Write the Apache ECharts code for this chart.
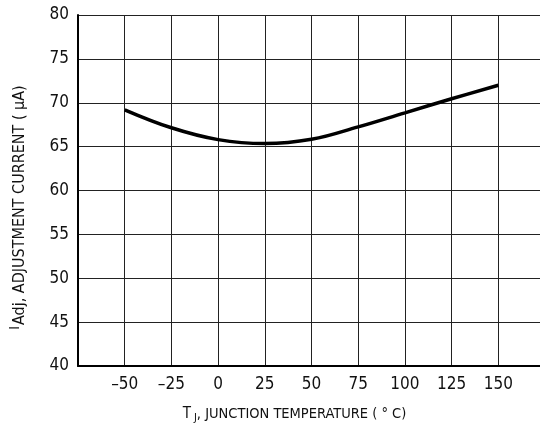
<!DOCTYPE html>
<html>
<head>
<meta charset="utf-8">
<script src="https://cdn.jsdelivr.net/npm/echarts@6/dist/echarts.min.js"></script>
<style>
html,body{margin:0;padding:0;background:#fff;}
#c{width:540px;height:425px;}
</style>
</head>
<body>
<div id="c"></div>
<script>
var temperatures = [-50, -25, 0, 25, 50, 75, 100, 125, 150];
var adjCurrent = [69.2, 67.15, 65.8, 65.35, 65.83, 67.25, 68.85, 70.45, 72.0];
var xTicks = [-50, -25, 0, 25, 50, 75, 100, 125, 150];
var yTicks = [40, 45, 50, 55, 60, 65, 70, 75, 80];

var FONT = '"Liberation Sans Narrow", "DejaVu Sans Condensed", sans-serif';
var chart = echarts.init(document.getElementById('c'), null, {renderer: 'canvas'});
var points = temperatures.map(function (t, i) { return [t, adjCurrent[i]]; });

chart.setOption({
  animation: false,
  backgroundColor: '#ffffff',
  grid: {left: 78, top: 15, height: 351, width: 467, containLabel: false, outerBoundsMode: 'none'},
  xAxis: {
    type: 'value', min: -75, max: 175, interval: 25,
    axisLine: {show: true, onZero: false, lineStyle: {color: '#000', width: 2}},
    axisTick: {show: false},
    splitLine: {show: true, lineStyle: {color: '#222', width: 1}},
    axisLabel: {
      margin: 10, color: '#111', fontFamily: FONT, fontSize: 17,
      formatter: function (v) {
        if (xTicks.indexOf(v) < 0) return '';
        return String(v).replace('-', '\u2013');
      }
    },
    name: '{t|T}{j|J}{n|, JUNCTION TEMPERATURE ( \u00B0 C)}',
    nameLocation: 'middle', nameGap: 41,
    nameTextStyle: {
      color: '#111', fontFamily: FONT, fontSize: 14.5,
      padding: [0, 34, 0, 0],
      rich: {
        t: {fontFamily: FONT, fontSize: 15, color: '#111', verticalAlign: 'bottom', padding: [0, 3, 2, 0]},
        j: {fontFamily: FONT, fontSize: 11, color: '#111', verticalAlign: 'bottom', padding: [0, 0, 0, 0]},
        n: {fontFamily: FONT, fontSize: 14.5, color: '#111', verticalAlign: 'bottom', padding: [0, 0, 2, 0]}
      }
    }
  },
  yAxis: {
    type: 'value', min: 40, max: 80, interval: 5,
    axisLine: {show: true, onZero: false, lineStyle: {color: '#000', width: 2}},
    axisTick: {show: false},
    splitLine: {show: true, lineStyle: {color: '#222', width: 1}},
    axisLabel: {
      margin: 9, color: '#111', fontFamily: FONT, fontSize: 17,
      formatter: function (v) { return yTicks.indexOf(v) >= 0 ? String(v) : ''; }
    },
    name: '{i|I}{a|Adj, ADJUSTMENT CURRENT ( \u00B5A)}',
    nameLocation: 'middle', nameGap: 50, nameRotate: 90,
    nameTextStyle: {
      color: '#111', fontFamily: FONT, fontSize: 16,
      padding: [0, 34, 0, 0],
      rich: {
        i: {fontFamily: FONT, fontSize: 14, color: '#111', verticalAlign: 'bottom', padding: [0, 1, 6, 0]},
        a: {fontFamily: FONT, fontSize: 16, color: '#111', verticalAlign: 'bottom', padding: [0, 0, 0, 0]}
      }
    }
  },
  series: [{
    type: 'line',
    data: points,
    smooth: 0.4,
    showSymbol: false,
    lineStyle: {color: '#000', width: 3.5},
    clip: true
  }]
});
</script>
</body>
</html>
